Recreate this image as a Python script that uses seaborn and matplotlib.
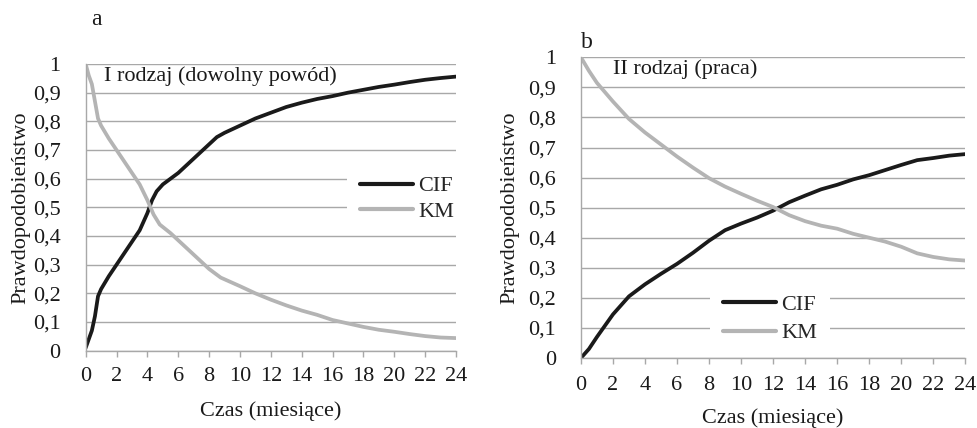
import numpy as np
import pandas as pd
import seaborn as sns
import matplotlib.pyplot as plt
from matplotlib.ticker import FuncFormatter

# panel a - I rodzaj (dowolny powod)
t_a_cif = [0, 0.2, 0.4, 0.6, 0.8, 1.0, 1.5, 2, 2.5, 3, 3.5, 4, 4.3, 4.6, 5, 5.5, 6, 6.5, 7, 7.5,
           8, 8.5, 9, 10, 11, 12, 13, 14, 15, 16, 17, 18, 19, 20, 21, 22, 23, 24]
cif_a = [0.01, 0.04, 0.07, 0.12, 0.19, 0.215, 0.26, 0.30, 0.34, 0.38, 0.42, 0.48, 0.525, 0.556, 0.58,
         0.60, 0.62, 0.645, 0.67, 0.695, 0.72, 0.745, 0.76, 0.785, 0.81, 0.83, 0.85, 0.865, 0.878,
         0.888, 0.90, 0.91, 0.92, 0.928, 0.937, 0.945, 0.951, 0.956]
t_a_km = [0, 0.2, 0.4, 0.6, 0.8, 1.0, 1.5, 2, 2.5, 3, 3.5, 4, 4.4, 4.8, 5.5, 6, 6.5, 7, 7.5, 8, 8.75,
          10, 11, 12, 13, 14, 15, 16, 17, 18, 19, 20, 21, 22, 23, 24]
km_a = [1.0, 0.96, 0.93, 0.87, 0.81, 0.785, 0.74, 0.70, 0.66, 0.62, 0.58, 0.525, 0.475, 0.44, 0.41,
        0.385, 0.36, 0.335, 0.31, 0.285, 0.255, 0.225, 0.20, 0.178, 0.158, 0.14, 0.125, 0.107,
        0.095, 0.083, 0.073, 0.066, 0.058, 0.051, 0.046, 0.044]

# panel b - II rodzaj (praca)
t_b = [0, 0.5, 1, 2, 3, 4, 5, 6, 7, 8, 9, 10, 11, 12, 13, 14, 15, 16, 17, 18, 19, 20, 21, 22, 23, 24]
cif_b = [0, 0.03, 0.07, 0.145, 0.205, 0.245, 0.28, 0.313, 0.35, 0.39, 0.425, 0.447, 0.467, 0.49,
         0.518, 0.54, 0.561, 0.576, 0.594, 0.608, 0.625, 0.642, 0.658, 0.665, 0.673, 0.678]
km_b = [1.0, 0.955, 0.915, 0.853, 0.795, 0.75, 0.71, 0.67, 0.633, 0.598, 0.57, 0.546, 0.523, 0.502,
        0.475, 0.455, 0.44, 0.43, 0.413, 0.4, 0.387, 0.37, 0.348, 0.336, 0.328, 0.324]

x_ticks = list(range(0, 25, 2))
y_ticks = [0, 0.1, 0.2, 0.3, 0.4, 0.5, 0.6, 0.7, 0.8, 0.9, 1]
panel_letters = ['a', 'b']
panel_notes = ['I rodzaj (dowolny powód)', 'II rodzaj (praca)']
x_label = 'Czas (miesiące)'
y_label = 'Prawdopodobieństwo'

sns.set_theme(style='white')
plt.rcParams['font.family'] = ['Liberation Serif', 'DejaVu Serif']

black = '#1a1a1a'
gray_line = '#b4b4b4'
grid_gray = '#a8a8a8'


def long_df(t_cif, cif, t_km, km):
    d1 = pd.DataFrame({'czas': t_cif, 'p': cif, 'krzywa': 'CIF'})
    d2 = pd.DataFrame({'czas': t_km, 'p': km, 'krzywa': 'KM'})
    return pd.concat([d1, d2], ignore_index=True)


frames = [long_df(t_a_cif, cif_a, t_a_km, km_a), long_df(t_b, cif_b, t_b, km_b)]

fig = plt.figure(figsize=(9.78, 4.28), dpi=100)
ax_a = fig.add_axes([0.0876, 0.1806, 0.3787, 0.6699])
ax_b = fig.add_axes([0.594, 0.1636, 0.393, 0.7025])
axes = [ax_a, ax_b]

# per-panel layout tweaks
ylab_x = [-0.150, -0.159]
xlab_y = [-0.178, -0.166]
ytick_pad = [12, 12]
xtick_pad = [8, 9]
xtick_len = [4, 4.3]
note_xy = [(1.19, 0.993), (2.0, 0.994)]
leg_anchor = [(0.706, 0.53), (0.336, 0.13)]
leg_spacing = [0.22, 0.36]
letter_xy = [(0.099, 0.955), (0.600, 0.9)]

for i, ax in enumerate(axes):
    sns.lineplot(data=frames[i], x='czas', y='p', hue='krzywa', estimator=None, sort=False,
                 palette={'CIF': black, 'KM': gray_line}, linewidth=2.7, ax=ax)
    ax.set_xlim(0, 24)
    ax.set_ylim(0, 1)
    ax.set_xticks(x_ticks)
    ax.set_yticks(y_ticks)
    ax.yaxis.set_major_formatter(FuncFormatter(lambda v, p: f'{v:g}'.replace('.', ',')))
    ax.grid(axis='y', color=grid_gray, linewidth=1.0)
    ax.set_axisbelow(True)
    for s in ['top', 'right']:
        ax.spines[s].set_visible(False)
    for s in ['left', 'bottom']:
        ax.spines[s].set_color(grid_gray)
        ax.spines[s].set_linewidth(1.0)
    ax.tick_params(axis='x', bottom=True, direction='out', length=xtick_len[i], width=1.0,
                   color=grid_gray, labelsize=16, pad=xtick_pad[i], labelcolor='#1a1a1a')
    ax.tick_params(axis='y', left=False, labelsize=16, pad=ytick_pad[i], labelcolor='#1a1a1a')
    ax.set_xlabel(x_label, fontsize=16, color='#1a1a1a')
    ax.set_ylabel(y_label, fontsize=16, color='#1a1a1a')
    ax.xaxis.set_label_coords(0.5, xlab_y[i])
    ax.yaxis.set_label_coords(ylab_x[i], 0.5)
    ax.text(note_xy[i][0], note_xy[i][1], panel_notes[i], fontsize=16, va='top', ha='left',
            color='#1a1a1a')
    sns.move_legend(ax, 'center left', bbox_to_anchor=leg_anchor[i], title=None, frameon=True,
                    fontsize=16, handlelength=2.35, handletextpad=0.25,
                    labelspacing=leg_spacing[i], borderpad=0.6, borderaxespad=0)
    leg = ax.get_legend()
    leg.get_frame().set_facecolor('white')
    leg.get_frame().set_edgecolor('none')
    leg.get_frame().set_alpha(1)
    for h in leg.get_lines():
        h.set_linewidth(3.0)
    fig.text(letter_xy[i][0], letter_xy[i][1], panel_letters[i], fontsize=17, ha='center',
             va='center', color='#1a1a1a')

fig.savefig('out.png', dpi=100)
